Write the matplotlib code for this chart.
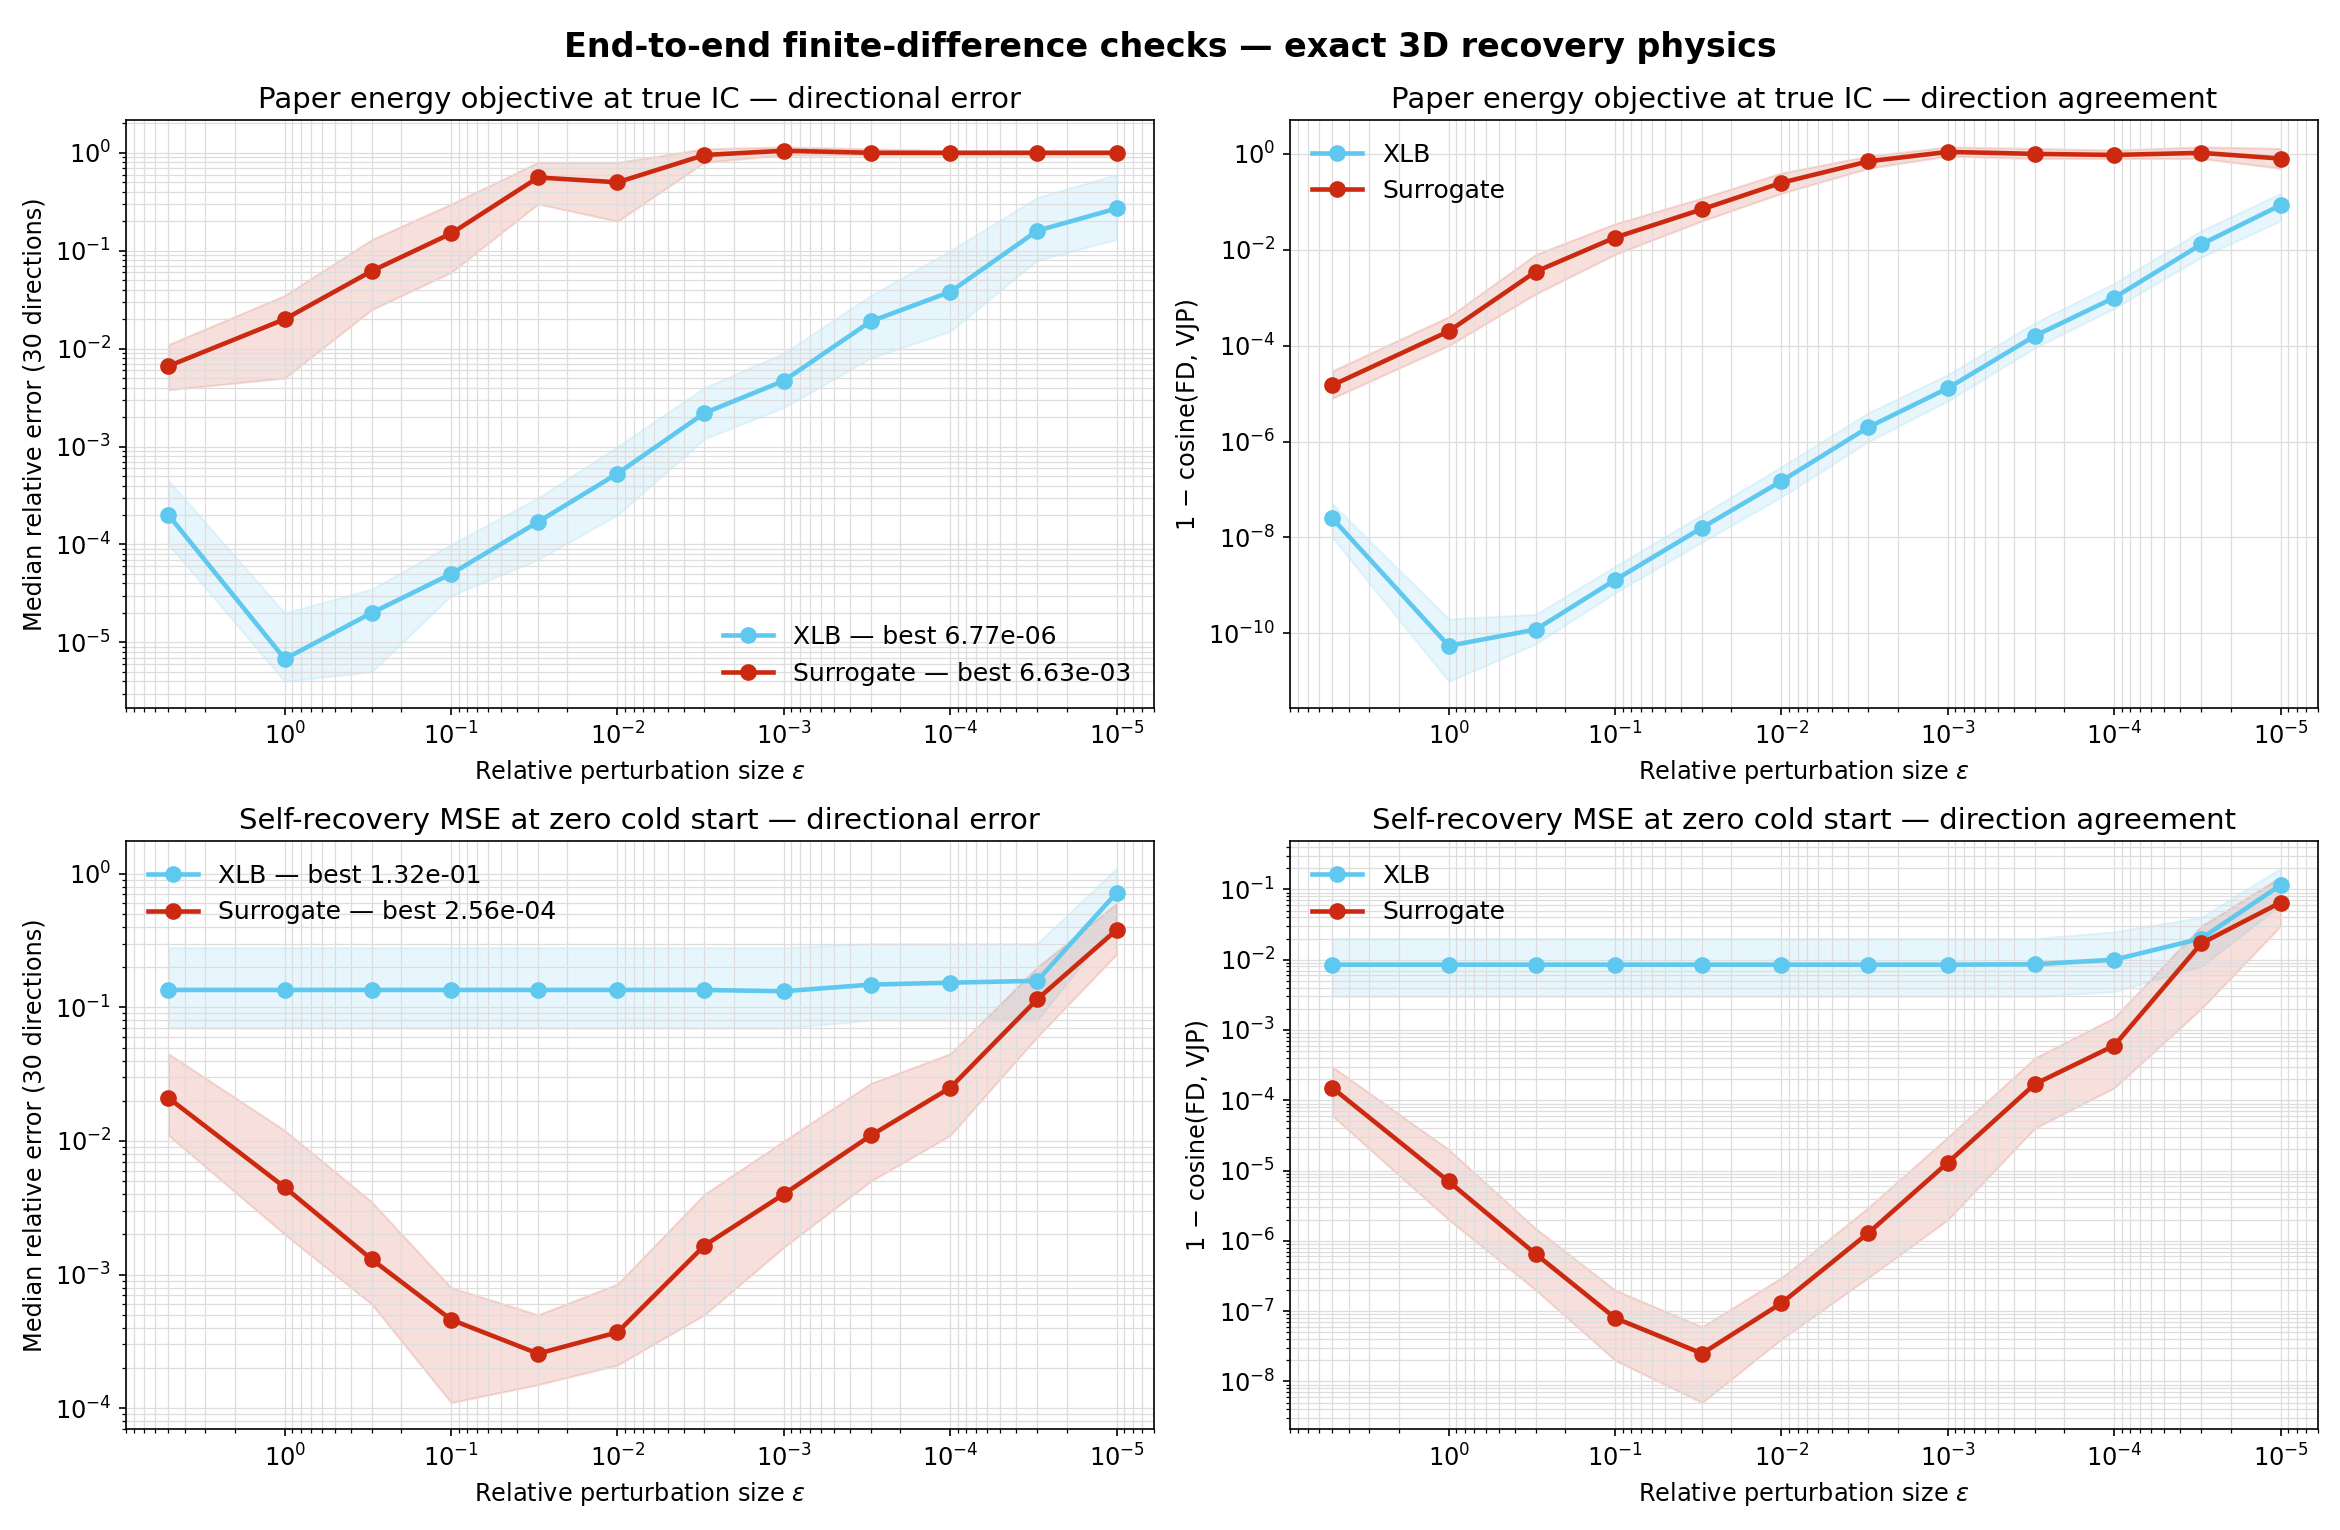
import numpy as np
import matplotlib.pyplot as plt

eps = [5, 1, 0.3, 0.1, 0.03, 0.01, 0.003, 0.001, 3e-4, 1e-4, 3e-5, 1e-5]

# panel A: energy objective, directional error
a_xlb = [2e-4, 6.77e-6, 2e-5, 5e-5, 1.7e-4, 5.3e-4, 2.2e-3, 4.7e-3, 1.9e-2, 3.8e-2, 0.16, 0.27]
a_xlb_lo = [1e-4, 4e-6, 5e-6, 3e-5, 7e-5, 2e-4, 1.2e-3, 2.5e-3, 8e-3, 1.5e-2, 8e-2, 0.13]
a_xlb_hi = [4.5e-4, 2e-5, 3.5e-5, 1e-4, 3e-4, 1e-3, 4e-3, 9e-3, 3.5e-2, 0.1, 0.35, 0.6]
a_sur = [6.63e-3, 2e-2, 6.2e-2, 0.15, 0.56, 0.5, 0.95, 1.05, 1.0, 1.0, 1.0, 1.0]
a_sur_lo = [3.8e-3, 5e-3, 2.5e-2, 6e-2, 0.3, 0.2, 0.8, 0.95, 0.95, 0.95, 0.95, 0.95]
a_sur_hi = [1.1e-2, 3.5e-2, 0.13, 0.3, 0.8, 0.8, 1.1, 1.15, 1.1, 1.05, 1.05, 1.05]

# panel B: energy objective, 1 - cosine
b_xlb = [2.5e-8, 5.5e-11, 1.2e-10, 1.3e-9, 1.6e-8, 1.5e-7, 2e-6, 1.3e-5, 1.6e-4, 1e-3, 1.3e-2, 8.5e-2]
b_xlb_lo = [1e-8, 1e-11, 6e-11, 7e-10, 8e-9, 7e-8, 1e-6, 7e-6, 9e-5, 6e-4, 7e-3, 4e-2]
b_xlb_hi = [5e-8, 2e-10, 2.5e-10, 2.5e-9, 3e-8, 3e-7, 4e-6, 2.5e-5, 3e-4, 2e-3, 2.5e-2, 0.15]
b_sur = [1.5e-5, 2e-4, 3.5e-3, 1.8e-2, 7e-2, 0.25, 0.7, 1.1, 1.0, 0.95, 1.05, 0.8]
b_sur_lo = [8e-6, 1e-4, 1.2e-3, 8e-3, 4e-2, 0.15, 0.5, 0.9, 0.8, 0.8, 0.8, 0.5]
b_sur_hi = [3e-5, 4e-4, 8e-3, 3.5e-2, 0.12, 0.4, 0.9, 1.4, 1.3, 1.2, 1.4, 1.3]

# panel C: self-recovery, directional error
c_xlb = [0.135, 0.135, 0.135, 0.135, 0.135, 0.135, 0.135, 0.132, 0.148, 0.153, 0.158, 0.72]
c_xlb_lo = [0.07, 0.07, 0.07, 0.07, 0.07, 0.07, 0.07, 0.07, 0.08, 0.08, 0.08, 0.45]
c_xlb_hi = [0.28, 0.28, 0.28, 0.28, 0.28, 0.28, 0.28, 0.28, 0.3, 0.3, 0.3, 1.1]
c_sur = [2.1e-2, 4.5e-3, 1.3e-3, 4.6e-4, 2.56e-4, 3.7e-4, 1.65e-3, 4e-3, 1.1e-2, 2.5e-2, 0.115, 0.38]
c_sur_lo = [1.1e-2, 2e-3, 6e-4, 1.1e-4, 1.5e-4, 2.1e-4, 5e-4, 1.6e-3, 5e-3, 1.1e-2, 6e-2, 0.25]
c_sur_hi = [4.5e-2, 1.2e-2, 3.5e-3, 8e-4, 5e-4, 8.5e-4, 4e-3, 1e-2, 2.7e-2, 4.5e-2, 0.2, 0.6]

# panel D: self-recovery, 1 - cosine
d_xlb = [8.5e-3, 8.5e-3, 8.5e-3, 8.5e-3, 8.5e-3, 8.5e-3, 8.5e-3, 8.5e-3, 8.6e-3, 1e-2, 2e-2, 0.115]
d_xlb_lo = [3e-3, 3e-3, 3e-3, 3e-3, 3e-3, 3e-3, 3e-3, 3e-3, 3e-3, 3.5e-3, 8e-3, 6e-2]
d_xlb_hi = [2e-2, 2e-2, 2e-2, 2e-2, 2e-2, 2e-2, 2e-2, 2e-2, 2e-2, 2.5e-2, 4e-2, 0.2]
d_sur = [1.5e-4, 7e-6, 6.5e-7, 8e-8, 2.5e-8, 1.3e-7, 1.3e-6, 1.3e-5, 1.7e-4, 6e-4, 1.7e-2, 6.5e-2]
d_sur_lo = [6e-5, 2e-6, 2e-7, 2e-8, 5e-9, 4e-8, 3e-7, 2e-6, 4e-5, 1.5e-4, 2e-3, 3e-2]
d_sur_hi = [3e-4, 2e-5, 1.5e-6, 2e-7, 6e-8, 3e-7, 3e-6, 3e-5, 4e-4, 1.5e-3, 3e-2, 0.15]

panels = [
    ("Paper energy objective at true IC — directional error", "Median relative error (30 directions)",
     a_xlb, a_xlb_lo, a_xlb_hi, a_sur, a_sur_lo, a_sur_hi, True, "lower right"),
    ("Paper energy objective at true IC — direction agreement", "1 − cosine(FD, VJP)",
     b_xlb, b_xlb_lo, b_xlb_hi, b_sur, b_sur_lo, b_sur_hi, False, "upper left"),
    ("Self-recovery MSE at zero cold start — directional error", "Median relative error (30 directions)",
     c_xlb, c_xlb_lo, c_xlb_hi, c_sur, c_sur_lo, c_sur_hi, True, "upper left"),
    ("Self-recovery MSE at zero cold start — direction agreement", "1 − cosine(FD, VJP)",
     d_xlb, d_xlb_lo, d_xlb_hi, d_sur, d_sur_lo, d_sur_hi, False, "upper left"),
]

blue = "#5ec8ee"
red = "#cc2a10"

fig, axes = plt.subplots(2, 2, figsize=(15.6, 10.2), dpi=150)
for ax, (title, ylab, xv, xlo, xhi, sv, slo, shi, best, loc) in zip(axes.flat, panels):
    ax.fill_between(eps, xlo, xhi, color=blue, alpha=0.15)
    ax.fill_between(eps, slo, shi, color=red, alpha=0.15)
    xl = "XLB — best %.2e" % min(xv) if best else "XLB"
    sl = "Surrogate — best %.2e" % min(sv) if best else "Surrogate"
    ax.plot(eps, xv, "-o", color=blue, lw=2.2, ms=7, label=xl)
    ax.plot(eps, sv, "-o", color=red, lw=2.2, ms=7, label=sl)
    ax.set_xscale("log")
    ax.set_yscale("log")
    ax.set_xlim(9, 6e-6)
    ax.grid(True, which="both", color="#dddddd", lw=0.6)
    ax.tick_params(labelsize=11.5)
    ax.set_title(title, fontsize=14)
    ax.set_xlabel("Relative perturbation size $\\varepsilon$", fontsize=11.5)
    ax.set_ylabel(ylab, fontsize=11.5)
    ax.legend(loc=loc, fontsize=12, frameon=False)

fig.suptitle("End-to-end finite-difference checks — exact 3D recovery physics", fontsize=16, fontweight="bold")
fig.tight_layout(rect=(0, 0, 1, 0.995), h_pad=1.0)
fig.savefig("out.png")
